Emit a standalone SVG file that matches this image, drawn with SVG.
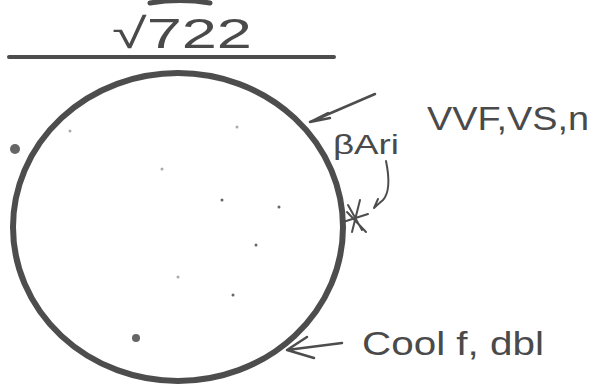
<svg xmlns="http://www.w3.org/2000/svg" width="593" height="385" viewBox="0 0 593 385">
<style>
.txt{font-family:"Liberation Sans","DejaVu Sans",sans-serif;fill:#4a4a4a}
.ln{fill:none;stroke:#4d4d4d;stroke-linecap:round;stroke-linejoin:round}
</style>
<rect width="593" height="385" fill="#ffffff"/>
<g id="top-arc"><path class="ln" d="M150,3 Q180,-2 210,3" stroke-width="5"/></g>
<g id="title"><text class="txt" x="112" y="48" font-size="42" textLength="140" lengthAdjust="spacingAndGlyphs">√722</text></g>
<g id="rule"><line class="ln" x1="9" y1="57" x2="334" y2="57" stroke-width="4" stroke="#555"/></g>
<g id="circle"><ellipse cx="178" cy="227" rx="165" ry="154" class="ln" stroke="#505050" stroke-width="6"/></g>
<g id="dots" fill="#666">
<circle cx="15" cy="149" r="5"/>
<circle cx="136" cy="338" r="4"/>
<circle cx="222" cy="200" r="1.5"/>
<circle cx="279" cy="207" r="1.5"/>
<circle cx="256" cy="245" r="1.5"/>
<circle cx="233" cy="295" r="1.5"/>
<circle cx="178" cy="277" r="1.5" fill="#aaa"/>
<circle cx="162" cy="169" r="1.5" fill="#aaa"/>
<circle cx="237" cy="127" r="1.5" fill="#aaa"/>
<circle cx="70" cy="131" r="1.5" fill="#aaa"/>
</g>
<g id="label-vvf"><text class="txt" x="427" y="130" font-size="34" textLength="162" lengthAdjust="spacingAndGlyphs">VVF,VS,n</text></g>
<g id="label-bari"><text class="txt" x="333" y="154" font-size="27" textLength="66" lengthAdjust="spacingAndGlyphs">βAri</text></g>
<g id="label-cool"><text class="txt" x="362" y="355" font-size="34" textLength="182" lengthAdjust="spacingAndGlyphs">Cool f, dbl</text></g>
<g id="mark"><path class="ln" stroke-width="2" d="M347,212 L366,232 M352,232 L360,200 M343,222 L368,214 M348,205 L362,230"/></g>
<g id="connectors">
<path class="ln" stroke-width="2.5" d="M375,94 L310,122 M310,122 L328,113 M310,122 L330,118"/>
<path class="ln" stroke-width="2" d="M386,161 Q392,190 383,200 Q376,206 374,208 M374,208 L378,199"/>
<path class="ln" stroke-width="2.5" d="M342,343 L287,350 M287,350 L307,337 M287,350 L314,358"/>
</g>
</svg>
